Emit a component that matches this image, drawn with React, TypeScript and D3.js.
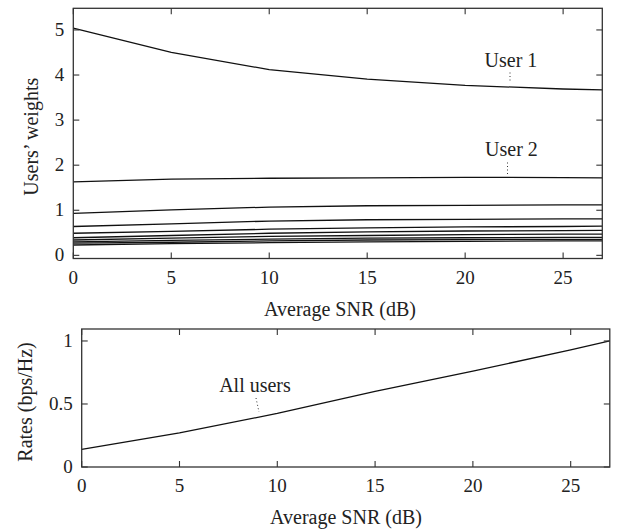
import React from "react";
import * as d3 from "d3";

const snr = [0, 5, 10, 15, 20, 25, 27];
const user1 = [5.04, 4.5, 4.12, 3.91, 3.77, 3.69, 3.67];
const user2 = [1.63, 1.69, 1.71, 1.72, 1.73, 1.725, 1.72];
const user3 = [0.93, 1.01, 1.07, 1.1, 1.11, 1.12, 1.12];
const user4 = [0.64, 0.7, 0.76, 0.79, 0.8, 0.81, 0.81];
const user5 = [0.49, 0.53, 0.58, 0.61, 0.63, 0.64, 0.65];
const user6 = [0.39, 0.44, 0.49, 0.52, 0.54, 0.55, 0.555];
const user7 = [0.34, 0.38, 0.42, 0.44, 0.46, 0.47, 0.47];
const user8 = [0.3, 0.33, 0.36, 0.38, 0.39, 0.4, 0.4];
const user9 = [0.27, 0.29, 0.32, 0.34, 0.35, 0.355, 0.356];
const user10 = [0.23, 0.26, 0.28, 0.3, 0.31, 0.32, 0.32];
const weights = [user1, user2, user3, user4, user5, user6, user7, user8, user9, user10];
const rates = [0.14, 0.27, 0.425, 0.6, 0.76, 0.93, 1.0];

const xTicks = [0, 5, 10, 15, 20, 25];
const wTicks = [0, 1, 2, 3, 4, 5];
const rTicks = [0, 0.5, 1];
const rTickLabels = ["0", "0.5", "1"];

const FONT = "'Liberation Serif', 'DejaVu Serif', serif";
const AX = "#333";
const TXT = "#222";

function Frame({ x, y, xt, yt, yLabels }: any) {
  const [x0, x1] = x.range();
  const [y0, y1] = y.range();
  const tl = 6;
  return (
    <g>
      <rect x={x0} y={y1} width={x1 - x0} height={y0 - y1} fill="none" stroke={AX} strokeWidth={1.3} />
      {xt.map((t: number) => (
        <g key={"x" + t}>
          <line x1={x(t)} x2={x(t)} y1={y0} y2={y0 - tl} stroke={AX} strokeWidth={1.1} />
          <line x1={x(t)} x2={x(t)} y1={y1} y2={y1 + tl} stroke={AX} strokeWidth={1.1} />
          <text x={x(t)} y={y0 + 25} textAnchor="middle" fontSize={19} fill={TXT}>{t}</text>
        </g>
      ))}
      {yt.map((t: number, i: number) => (
        <g key={"y" + t}>
          <line x1={x0} x2={x0 + tl} y1={y(t)} y2={y(t)} stroke={AX} strokeWidth={1.1} />
          <line x1={x1} x2={x1 - tl} y1={y(t)} y2={y(t)} stroke={AX} strokeWidth={1.1} />
          <text x={x0 - 9} y={y(t) + 6} textAnchor="end" fontSize={19} fill={TXT}>{yLabels ? yLabels[i] : t}</text>
        </g>
      ))}
    </g>
  );
}

export default function App() {
  const xTop = d3.scaleLinear().domain([0, 27]).range([73.3, 602.3]);
  const yTop = d3.scaleLinear().domain([-0.07, 5.48]).range([258.5, 8.3]);
  const xBot = d3.scaleLinear().domain([0, 27]).range([81.7, 609.8]);
  const yBot = d3.scaleLinear().domain([0, 1.095]).range([467, 329]);

  const lineTop = d3.line<number>().x((_, i) => xTop(snr[i])).y((d) => yTop(d));
  const lineBot = d3.line<number>().x((_, i) => xBot(snr[i])).y((d) => yBot(d));

  return (
    <svg width={621} height={529} style={{ position: "absolute", left: 0, top: 0, background: "#fff" }} fontFamily={FONT}>
      <rect x={0} y={0} width={621} height={529} fill="#fff" />
      {weights.map((w, i) => (
        <path key={i} d={lineTop(w) || ""} fill="none" stroke="#111" strokeWidth={1.3} />
      ))}
      <Frame x={xTop} y={yTop} xt={xTicks} yt={wTicks} />
      <text x={511} y={66.5} textAnchor="middle" fontSize={20} fill={TXT}>User 1</text>
      <line x1={510} x2={510} y1={72.5} y2={82} stroke="#333" strokeWidth={1} strokeDasharray="1,2.5" />
      <text x={511.5} y={155.5} textAnchor="middle" fontSize={20} fill={TXT}>User 2</text>
      <line x1={507.5} x2={507.5} y1={162.5} y2={175} stroke="#333" strokeWidth={1} strokeDasharray="1,2.5" />
      <text x={340} y={316} textAnchor="middle" fontSize={20} fill={TXT}>Average SNR (dB)</text>
      <text transform="translate(38,136.7) rotate(-90)" textAnchor="middle" fontSize={20} fill={TXT}>Users’ weights</text>

      <path d={lineBot(rates) || ""} fill="none" stroke="#111" strokeWidth={1.3} />
      <Frame x={xBot} y={yBot} xt={xTicks} yt={rTicks} yLabels={rTickLabels} />
      <text x={255} y={392} textAnchor="middle" fontSize={20} fill={TXT}>All users</text>
      <line x1={256} x2={259} y1={398} y2={412} stroke="#333" strokeWidth={1} strokeDasharray="1,2.5" />
      <text x={346} y={524} textAnchor="middle" fontSize={20} fill={TXT}>Average SNR (dB)</text>
      <text transform="translate(32,402) rotate(-90)" textAnchor="middle" fontSize={20} fill={TXT}>Rates (bps/Hz)</text>
    </svg>
  );
}
